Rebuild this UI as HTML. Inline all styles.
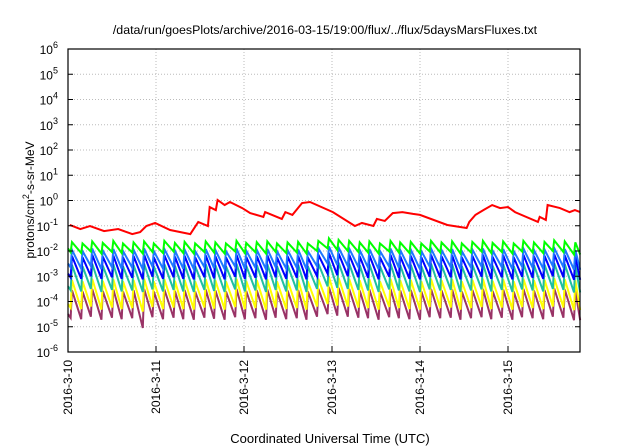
<!DOCTYPE html>
<html><head><meta charset="utf-8"><style>
html,body{margin:0;padding:0;background:#fff}
svg{display:block;font-family:"Liberation Sans",sans-serif}
</style></head><body>
<svg id="chart" width="640" height="448" viewBox="0 0 640 448">
<text x="325" y="34" font-size="12.4" text-anchor="middle" fill="#000">/data/run/goesPlots/archive/2016-03-15/19:00/flux/../flux/5daysMarsFluxes.txt</text>
<text transform="translate(34,200) rotate(-90)" font-size="12" text-anchor="middle" fill="#000">protons/cm<tspan dy="-5" font-size="9">2</tspan><tspan dy="5">-s-sr-MeV</tspan></text>
<text x="330" y="443" font-size="13" text-anchor="middle" fill="#000">Coordinated Universal Time (UTC)</text>
<g id="grid"></g><g id="series"></g><g id="axes"></g>
</svg>
<script>
const xTickLabels = ["2016-3-10","2016-3-11","2016-3-12","2016-3-13","2016-3-14","2016-3-15"];
const yTickExps = [-6,-5,-4,-3,-2,-1,0,1,2,3,4,5,6];
const redTimes = [0.02,0.14,0.25,0.41,0.57,0.73,0.82,0.89,0.99,1.16,1.39,1.48,1.59,1.61,1.68,1.70,1.78,1.84,1.98,2.07,2.22,2.24,2.43,2.47,2.55,2.66,2.75,3.01,3.26,3.34,3.47,3.51,3.60,3.69,3.80,3.92,4.00,4.31,4.53,4.56,4.63,4.72,4.82,4.91,5.00,5.08,5.34,5.36,5.43,5.45,5.59,5.70,5.76,5.82];
const redLog = [-0.97,-1.13,-1.01,-1.21,-1.13,-1.33,-1.25,-1.01,-0.89,-1.17,-1.33,-0.85,-1.01,-0.26,-0.38,0.02,-0.18,-0.06,-0.30,-0.50,-0.65,-0.46,-0.73,-0.46,-0.57,-0.10,-0.06,-0.46,-1.01,-0.89,-1.01,-0.73,-0.81,-0.50,-0.46,-0.53,-0.57,-0.97,-1.09,-0.85,-0.57,-0.38,-0.18,-0.30,-0.26,-0.46,-0.85,-0.65,-0.77,-0.18,-0.30,-0.46,-0.38,-0.46];
const spikeTimes = [0.03,0.15,0.26,0.38,0.5,0.61,0.73,0.85,0.96,1.08,1.2,1.31,1.43,1.55,1.66,1.78,1.9,2.01,2.13,2.25,2.36,2.48,2.6,2.71,2.83,2.95,3.06,3.18,3.3,3.41,3.53,3.65,3.76,3.88,4.0,4.11,4.23,4.35,4.46,4.58,4.7,4.81,4.93,5.05,5.16,5.28,5.4,5.51,5.63,5.75];
const greenPeaks = [-1.65,-1.7,-1.62,-1.68,-1.6,-1.7,-1.66,-1.62,-1.7,-1.6,-1.68,-1.64,-1.7,-1.62,-1.66,-1.7,-1.6,-1.68,-1.65,-1.62,-1.7,-1.66,-1.64,-1.7,-1.6,-1.5,-1.56,-1.6,-1.66,-1.62,-1.7,-1.6,-1.66,-1.64,-1.7,-1.6,-1.66,-1.62,-1.7,-1.64,-1.6,-1.68,-1.62,-1.7,-1.6,-1.66,-1.64,-1.58,-1.62,-1.66];
const greenTroughs = [-2.05,-2.08,-2.02,-2.1,-2.04,-2.08,-2.06,-2.1,-2.04,-2.08,-2.02,-2.08,-2.1,-2.04,-2.06,-2.1,-2.02,-2.08,-2.05,-2.1,-2.04,-2.08,-2.06,-2.1,-2.0,-1.9,-1.96,-2.0,-2.04,-2.06,-2.1,-2.02,-2.06,-2.08,-2.1,-2.02,-2.06,-2.04,-2.1,-2.06,-2.02,-2.08,-2.04,-2.1,-2.02,-2.06,-2.08,-2.0,-2.04,-2.14];
const lblPeaks = [-1.95,-2.0,-1.9,-1.98,-1.92,-2.0,-1.95,-1.9,-2.0,-1.92,-1.98,-1.94,-2.0,-1.92,-1.96,-2.0,-1.9,-1.98,-1.95,-1.92,-2.0,-1.96,-1.94,-2.0,-1.9,-1.82,-1.86,-1.9,-1.96,-1.92,-2.0,-1.9,-1.96,-1.94,-2.0,-1.9,-1.96,-1.92,-2.0,-1.94,-1.9,-1.98,-1.92,-2.0,-1.9,-1.96,-1.94,-1.88,-1.92,-1.96];
const lblTroughs = [-2.65,-2.7,-2.6,-2.72,-2.64,-2.7,-2.66,-2.72,-2.62,-2.7,-2.64,-2.7,-2.72,-2.64,-2.68,-2.72,-2.62,-2.7,-2.66,-2.72,-2.64,-2.7,-2.66,-2.72,-2.6,-2.5,-2.56,-2.6,-2.64,-2.66,-2.72,-2.62,-2.66,-2.7,-2.72,-2.62,-2.66,-2.64,-2.72,-2.66,-2.62,-2.7,-2.64,-2.72,-2.62,-2.66,-2.7,-2.6,-2.64,-2.74];
const bluePeaks = [-2.2,-2.25,-2.15,-2.22,-2.18,-2.25,-2.2,-2.15,-2.25,-2.17,-2.22,-2.19,-2.25,-2.17,-2.21,-2.25,-2.15,-2.23,-2.2,-2.17,-2.25,-2.21,-2.19,-2.25,-2.15,-2.08,-2.1,-2.15,-2.21,-2.17,-2.25,-2.15,-2.21,-2.19,-2.25,-2.15,-2.21,-2.17,-2.25,-2.19,-2.15,-2.23,-2.17,-2.25,-2.15,-2.21,-2.19,-2.13,-2.17,-2.21];
const blueTroughs = [-3.05,-3.1,-3.0,-3.1,-3.04,-3.1,-3.06,-3.12,-3.02,-3.1,-3.04,-3.1,-3.12,-3.04,-3.08,-3.12,-3.02,-3.1,-3.06,-3.12,-3.04,-3.1,-3.06,-3.12,-3.0,-2.9,-2.96,-3.0,-3.04,-3.06,-3.12,-3.02,-3.06,-3.1,-3.12,-3.02,-3.06,-3.04,-3.12,-3.06,-3.02,-3.1,-3.04,-3.12,-3.02,-3.06,-3.1,-3.0,-3.04,-3.14];
const tealPeaks = [-2.55,-2.6,-2.5,-2.58,-2.52,-2.6,-2.55,-2.5,-2.6,-2.52,-2.58,-2.54,-2.6,-2.52,-2.56,-2.6,-2.5,-2.58,-2.55,-2.52,-2.6,-2.56,-2.54,-2.6,-2.5,-2.42,-2.46,-2.5,-2.56,-2.52,-2.6,-2.5,-2.56,-2.54,-2.6,-2.5,-2.56,-2.52,-2.6,-2.54,-2.5,-2.58,-2.52,-2.6,-2.5,-2.56,-2.54,-2.48,-2.52,-2.56];
const tealTroughs = [-3.55,-3.6,-3.5,-3.62,-3.54,-3.6,-3.56,-3.62,-3.52,-3.6,-3.54,-3.6,-3.62,-3.54,-3.58,-3.62,-3.52,-3.6,-3.56,-3.62,-3.54,-3.6,-3.56,-3.62,-3.5,-3.4,-3.46,-3.5,-3.54,-3.56,-3.62,-3.52,-3.56,-3.6,-3.62,-3.52,-3.56,-3.54,-3.62,-3.56,-3.52,-3.6,-3.54,-3.62,-3.52,-3.56,-3.6,-3.5,-3.54,-3.64];
const yellowPeaks = [-3.15,-3.2,-3.1,-3.18,-3.12,-3.2,-3.15,-3.1,-3.2,-3.12,-3.18,-3.14,-3.2,-3.12,-3.16,-3.2,-3.1,-3.18,-3.15,-3.12,-3.2,-3.16,-3.14,-3.2,-3.1,-3.02,-3.06,-3.1,-3.16,-3.12,-3.2,-3.1,-3.16,-3.14,-3.2,-3.1,-3.16,-3.12,-3.2,-3.14,-3.1,-3.18,-3.12,-3.2,-3.1,-3.16,-3.14,-3.08,-3.12,-3.16];
const yellowTroughs = [-4.25,-4.3,-4.2,-4.32,-4.24,-4.3,-4.26,-4.4,-4.22,-4.3,-4.24,-4.3,-4.32,-4.24,-4.28,-4.32,-4.22,-4.3,-4.26,-4.32,-4.24,-4.3,-4.26,-4.32,-4.2,-4.1,-4.16,-4.2,-4.24,-4.26,-4.32,-4.22,-4.26,-4.3,-4.32,-4.22,-4.26,-4.24,-4.32,-4.26,-4.22,-4.3,-4.24,-4.32,-4.22,-4.26,-4.3,-4.2,-4.24,-4.34];
const purplePeaks = [-3.55,-3.6,-3.5,-3.58,-3.52,-3.6,-3.55,-3.5,-3.6,-3.52,-3.58,-3.54,-3.6,-3.52,-3.56,-3.6,-3.5,-3.58,-3.55,-3.52,-3.6,-3.56,-3.54,-3.6,-3.5,-3.42,-3.46,-3.5,-3.56,-3.52,-3.6,-3.5,-3.56,-3.54,-3.6,-3.5,-3.56,-3.52,-3.6,-3.54,-3.5,-3.58,-3.52,-3.6,-3.5,-3.56,-3.54,-3.48,-3.52,-3.56];
const purpleTroughs = [-4.65,-4.7,-4.6,-4.72,-4.64,-4.7,-4.66,-5.05,-4.62,-4.7,-4.64,-4.7,-4.72,-4.64,-4.68,-4.72,-4.62,-4.7,-4.66,-4.72,-4.64,-4.7,-4.66,-4.72,-4.6,-4.5,-4.56,-4.6,-4.64,-4.66,-4.72,-4.62,-4.66,-4.7,-4.72,-4.62,-4.66,-4.64,-4.72,-4.66,-4.62,-4.7,-4.64,-4.72,-4.62,-4.66,-4.7,-4.6,-4.64,-4.74];
const tEnd = 5.82;

const X0=68, X1=580, Y0=49, Y1=352, DAYPX=88;
const xs = d => X0 + d*DAYPX;
const ys = l => Y0 + (6 - l)*(Y1-Y0)/12;
const NS="http://www.w3.org/2000/svg";
function mk(tag, parent){const e=document.createElementNS(NS,tag);parent.appendChild(e);return e;}
const grid=document.getElementById('grid'), axes=document.getElementById('axes'), ser=document.getElementById('series');

yTickExps.forEach(e=>{
  const y=ys(e);
  if(e>-6&&e<6){
    const g=mk('line',grid);
    
    
    g.setAttribute('x1',X0);g.setAttribute('x2',X1);g.setAttribute('y1',y);g.setAttribute('y2',y);
    g.setAttribute('stroke','#bbb');g.setAttribute('stroke-dasharray','1,2');
  }
  const t=mk('text',axes);
  
  
  t.setAttribute('x',X0-10);t.setAttribute('y',y+5);t.setAttribute('text-anchor','end');t.setAttribute('font-size','12');
  t.innerHTML='10<tspan dy="-6" font-size="9">'+e+'</tspan>';
  const k=mk('line',axes);
  
  
  k.setAttribute('x1',X0);k.setAttribute('x2',X0+5);k.setAttribute('y1',y);k.setAttribute('y2',y);k.setAttribute('stroke','#000');
  const k2=mk('line',axes);
  
  
  k2.setAttribute('x1',X1);k2.setAttribute('x2',X1-5);k2.setAttribute('y1',y);k2.setAttribute('y2',y);k2.setAttribute('stroke','#000');
});
xTickLabels.forEach((lab,i)=>{
  const x=xs(i);
  if(i>0){
    const g=mk('line',grid);
    
    
    g.setAttribute('x1',x);g.setAttribute('x2',x);g.setAttribute('y1',Y0);g.setAttribute('y2',Y1);
    g.setAttribute('stroke','#bbb');g.setAttribute('stroke-dasharray','1,2');
  }
  const k=mk('line',axes);
  
  
  k.setAttribute('x1',x);k.setAttribute('x2',x);k.setAttribute('y1',Y1);k.setAttribute('y2',Y1-6);k.setAttribute('stroke','#000');
  const t=mk('text',axes);
  
  
  t.setAttribute('transform','translate('+(x+4)+','+(Y1+8)+') rotate(-90)');
  t.setAttribute('text-anchor','end');t.setAttribute('font-size','12');
  t.textContent=lab;
});
const fr=mk('rect',axes);


fr.setAttribute('x',X0);fr.setAttribute('y',Y0);fr.setAttribute('width',X1-X0);fr.setAttribute('height',Y1-Y0);
fr.setAttribute('fill','none');fr.setAttribute('stroke','#000');fr.setAttribute('stroke-width','1.2');

function sawPath(peaks, troughs){
  let d='M'+xs(0)+','+ys(troughs[0]+0.15);
  spikeTimes.forEach((t,i)=>{
    d+=' L'+xs(t)+','+ys(troughs[i]);
    d+=' L'+xs(t+0.015)+','+ys(peaks[i]);
  });
  d+=' L'+xs(tEnd)+','+ys(troughs[troughs.length-1]);
  return d;
}
function addPath(d,color,name){
  const p=mk('path',ser);
  
  
  p.setAttribute('d',d);p.setAttribute('fill','none');p.setAttribute('stroke',color);
  p.setAttribute('stroke-width','2');p.setAttribute('stroke-linejoin','miter');
}
addPath(sawPath(purplePeaks,purpleTroughs),'#993366','series-purple');
addPath(sawPath(yellowPeaks,yellowTroughs),'#ffff00','series-yellow');
addPath(sawPath(tealPeaks,tealTroughs),'#20c0a0','series-teal');
addPath(sawPath(bluePeaks,blueTroughs),'#0000ff','series-blue');
addPath(sawPath(lblPeaks,lblTroughs),'#1e78ff','series-light-blue');
addPath(sawPath(greenPeaks,greenTroughs),'#00ff00','series-green');
let rd='';
redTimes.forEach((t,i)=>{rd+=(i?' L':'M')+xs(t)+','+ys(redLog[i]);});
addPath(rd,'#ff0000','series-red');
</script>
</body></html>
